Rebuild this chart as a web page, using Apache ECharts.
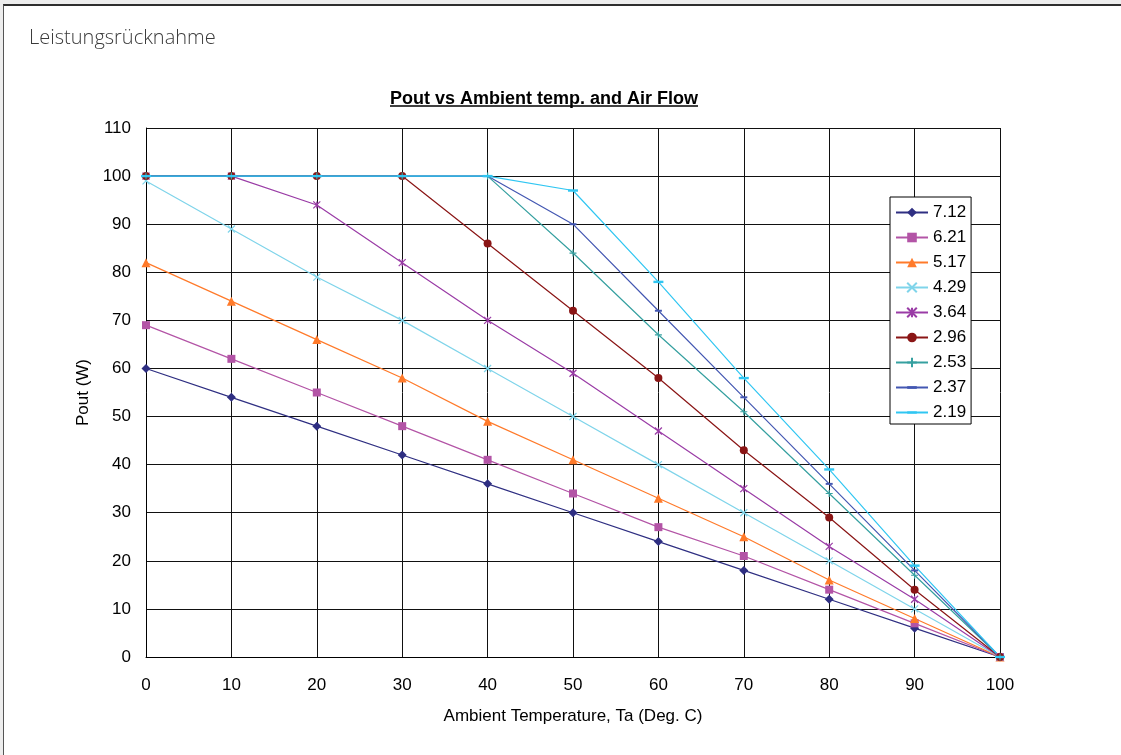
<!DOCTYPE html>
<html>
<head>
<meta charset="utf-8">
<script src="https://cdn.jsdelivr.net/npm/echarts@6/dist/echarts.min.js"></script>
<style>
  html, body { margin: 0; padding: 0; width: 1121px; height: 755px; overflow: hidden; background: #ededed; }
  #frame { position: absolute; left: 3px; top: 4px; width: 1130px; height: 760px; background: #fff;
           border-top: 2px solid #2e2e2e; border-left: 1px solid #555; }
  #chart { position: absolute; left: 0; top: 0; width: 1121px; height: 755px; }
</style>
</head>
<body>
<div id="frame"></div>
<div id="chart"></div>
<script>
// ---- data ----
const temps = [0, 10, 20, 30, 40, 50, 60, 70, 80, 90, 100];
const seriesNames = ['7.12', '6.21', '5.17', '4.29', '3.64', '2.96', '2.53', '2.37', '2.19'];
const s712 = [60, 54, 48, 42, 36, 30, 24, 18, 12, 6, 0];
const s621 = [69, 62, 55, 48, 41, 34, 27, 21, 14, 7, 0];
const s517 = [82, 74, 66, 58, 49, 41, 33, 25, 16, 8, 0];
const s429 = [99, 89, 79, 70, 60, 50, 40, 30, 20, 10, 0];
const s364 = [100, 100, 94, 82, 70, 59, 47, 35, 23, 12, 0];
const s296 = [100, 100, 100, 100, 86, 72, 58, 43, 29, 14, 0];
const s253 = [100, 100, 100, 100, 100, 84, 67, 51, 34, 17, 0];
const s237 = [100, 100, 100, 100, 100, 90, 72, 54, 36, 18, 0];
const s219 = [100, 100, 100, 100, 100, 97, 78, 58, 39, 19, 0];
const seriesValues = [s712, s621, s517, s429, s364, s296, s253, s237, s219];
const pageHeading = 'Leistungsrücknahme';
const chartTitle = 'Pout vs Ambient temp. and Air Flow';
const xName = 'Ambient Temperature, Ta (Deg. C)';
const yName = 'Pout (W)';

// ---- styles ----
const colors = ['#2f2f82', '#b354a6', '#ff7a2a', '#7fd4ea', '#9a3ca6', '#8a1515', '#36a0a0', '#4357b2', '#30c6f2'];
const symbols = [
  'diamond', 'rect', 'triangle',
  'path://M0,0L10,10M10,0L0,10',
  'path://M0,0L10,10M10,0L0,10M5,0L5,10',
  'circle',
  'path://M5,0L5,10M0,5L10,5',
  'path://M0,0M10,10M0,3.6L10,3.6L10,6.4L0,6.4Z',
  'path://M0,0M10,10M0,3.8L10,3.8L10,6.2L0,6.2Z'
];
const sizes = [9, 8, 9, 7, 7, 8, 7, 7, 10];
const font = '"Liberation Sans", Arial, sans-serif';

const chart = echarts.init(document.getElementById('chart'), null, { renderer: 'canvas' });

// underline width for the chart title
const cv = document.createElement('canvas').getContext('2d');
cv.font = 'bold 18px ' + font;
const tw = cv.measureText(chartTitle).width;
const tcx = 539;

const series = seriesNames.map((name, i) => ({
  name: name,
  type: 'line',
  data: temps.map((t, j) => [t, seriesValues[i][j]]),
  symbol: symbols[i],
  symbolSize: sizes[i],
  showSymbol: true,
  lineStyle: { color: colors[i], width: 1.2 },
  itemStyle: { color: colors[i], borderColor: colors[i], borderWidth: (i === 3 || i === 4 || i === 6) ? 1.2 : 0 },
  emphasis: { disabled: true },
  animation: false
}));

chart.setOption({
  animation: false,
  backgroundColor: 'transparent',
  title: [
    { text: pageHeading, left: 24, top: 23,
      textStyle: { fontFamily: '"Open Sans", sans-serif', fontWeight: 300, fontSize: 20, color: '#3a3a3a' } },
    { text: chartTitle, left: tcx - tw / 2, top: 85,
      textStyle: { fontFamily: font, fontWeight: 'bold', fontSize: 18, color: '#000' } }
  ],
  graphic: [
    { type: 'line', shape: { x1: tcx - tw / 2 + 5, y1: 106, x2: tcx + tw / 2 + 5, y2: 106 },
      style: { stroke: '#000', lineWidth: 1.5 }, silent: true }
  ],
  legend: {
    orient: 'vertical',
    left: 890, top: 197,
    padding: [7, 5, 3, 5],
    itemWidth: 32, itemHeight: 12, itemGap: 8,
    backgroundColor: '#fff', borderColor: '#000', borderWidth: 1, borderRadius: 0,
    textStyle: { fontFamily: font, fontSize: 17, color: '#000', padding: [0, 0, 0, 0] },
    data: seriesNames
  },
  grid: { left: 146, right: 121, top: 128, bottom: 98, containLabel: false },
  xAxis: {
    type: 'value', min: 0, max: 100, interval: 10,
    name: xName, nameLocation: 'middle', nameGap: 51,
    nameTextStyle: { fontFamily: font, fontSize: 17, color: '#000' },
    axisLine: { show: true, lineStyle: { color: '#000', width: 1 } },
    axisTick: { show: false },
    axisLabel: { fontFamily: font, fontSize: 17, color: '#000', margin: 20 },
    splitLine: { show: true, lineStyle: { color: '#111', width: 1 } }
  },
  yAxis: {
    type: 'value', min: 0, max: 110, interval: 10,
    name: yName, nameLocation: 'middle', nameGap: 48,
    nameTextStyle: { fontFamily: font, fontSize: 17, color: '#000' },
    axisLine: { show: true, lineStyle: { color: '#000', width: 1 } },
    axisTick: { show: false },
    axisLabel: { fontFamily: font, fontSize: 17, color: '#000', margin: 15 },
    splitLine: { show: true, lineStyle: { color: '#111', width: 1 } }
  },
  series: series
});
</script>
</body>
</html>
